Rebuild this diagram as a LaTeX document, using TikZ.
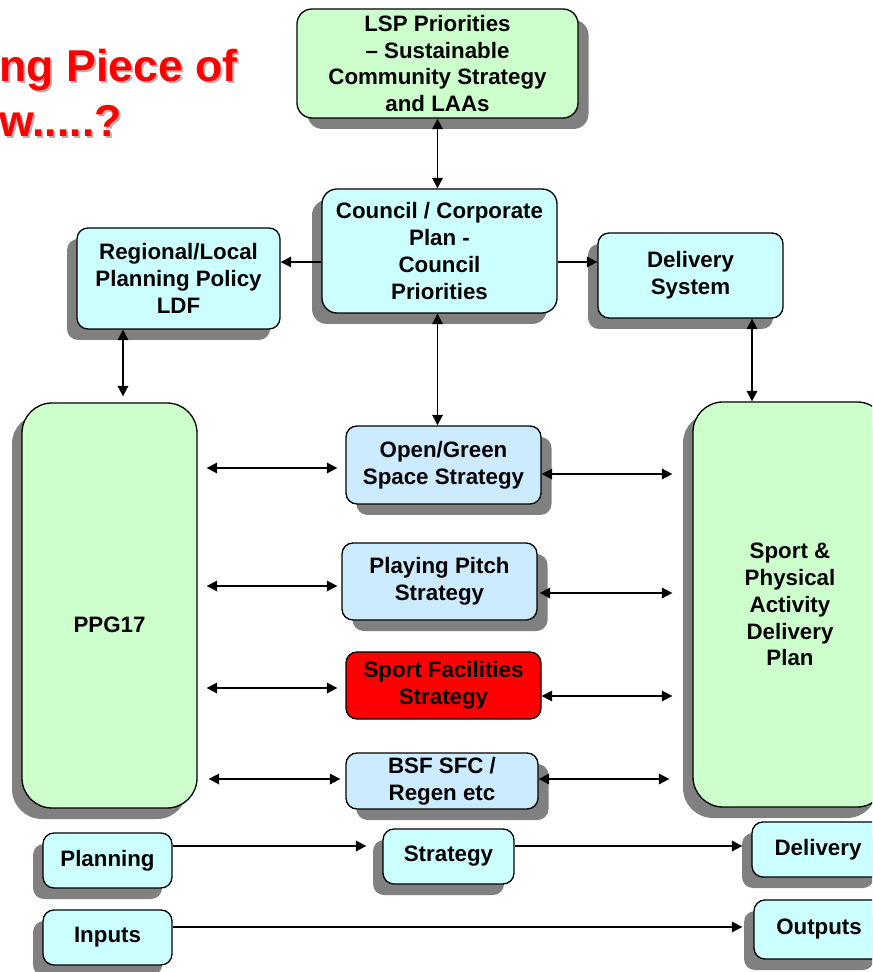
\documentclass[tikz,border=0pt]{standalone}
\usepackage{fontspec}
\setmainfont{Liberation Sans}
\usetikzlibrary{arrows.meta,shadows,calc}

\definecolor{palegreen}{HTML}{CCFFCC}
\definecolor{palecyan}{HTML}{CCFFFF}
\definecolor{paleblue}{HTML}{CCEBFF}
\definecolor{titlered}{HTML}{FF0000}
\definecolor{titleshade}{HTML}{B4B4B4}

\tikzset{
  box/.style={draw, line width=0.75pt, rounded corners=0.22cm, inner sep=0pt, align=center,
    font=\fontsize{12.7}{15.3}\selectfont\bfseries},
  sz/.style 2 args={minimum width=#1*0.02cm, minimum height=#2*0.02cm},
  shleft/.style={drop shadow={shadow xshift=-0.2cm, shadow yshift=-0.22cm, fill=gray, opacity=1}},
  shright/.style={drop shadow={shadow xshift=0.21cm, shadow yshift=-0.22cm, fill=gray, opacity=1}},
  link/.style={line width=1pt, >={Triangle[length=0.21cm, width=0.21cm]}},
  heading/.style={inner sep=0pt, anchor=base west, font=\fontsize{25.4}{30}\selectfont\bfseries},
}

\begin{document}
\begin{tikzpicture}[x=0.02cm, y=-0.02cm]
	\clip (0,0) rectangle (872,972);
	
	% Title (cut off on the left)
	\node[heading, text=titleshade] (titleashade) at (1,84) {ng Piece of};
	\node[heading, text=titlered] (titlea) at (-1,82) {ng Piece of};
	\node[heading, text=titleshade] (titlebshade) at (1,139) {w.....?};
	\node[heading, text=titlered] (titleb) at (-1,137) {w.....?};
	
	% Top row
	\node[box, sz={281}{109}, fill=palegreen, shright, rounded corners=0.3cm] (lsp) at (437.5,63.5)
		{LSP Priorities\\– Sustainable\\Community Strategy\\and LAAs};
	\node[box, sz={235}{124}, fill=palecyan, shleft, rounded corners=0.3cm] (council) at (439.5,251)
		{Council / Corporate\\Plan -\\Council\\Priorities};
	\node[box, sz={203}{101}, fill=palecyan, shleft] (regional) at (178.5,278.5)
		{Regional/Local\\Planning Policy\\LDF};
	\node[box, sz={185}{85}, fill=palecyan, shleft] (delsys) at (690.5,275.5)
		{Delivery\\System};
	
	% Side columns
	\node[box, sz={175}{405}, fill=palegreen, shleft, rounded corners=0.6cm] (ppg) at (109.5,605.5) {};
	\node[box, draw=none] (ppgtext) at (109.5,625) {PPG17};
	\node[box, sz={194}{405}, fill=palegreen, shleft, rounded corners=0.6cm] (spa) at (790,604.5)
		{Sport \&\\Physical\\Activity\\Delivery\\Plan};
	
	% Strategies
	\node[box, sz={195}{78}, fill=paleblue, shright] (ogs) at (443.5,465) {Open/Green\\Space Strategy};
	\node[box, sz={195}{77}, fill=paleblue, shright] (pps) at (439.5,581.5) {Playing Pitch\\Strategy};
	\node[box, sz={195}{67}, fill=titlered] (sfs) at (443.5,685.5) {Sport Facilities\\Strategy};
	\node[box, sz={192}{56}, fill=paleblue, shright] (bsf) at (442,781) {BSF SFC /\\Regen etc};
	
	% Bottom key
	\node[box, sz={129}{55}, fill=palecyan, shleft] (planning) at (107.5,860.5) {Planning};
	\node[box, sz={131}{55}, fill=palecyan, shleft] (strategy) at (448.5,856.5) {Strategy};
	\node[box, sz={132}{55}, fill=palecyan, shleft] (delivery) at (818,849.5) {Delivery};
	\node[box, sz={129}{55}, fill=palecyan, shleft] (inputs) at (107.5,937.5) {Inputs};
	\node[box, sz={130}{59}, fill=palecyan, shleft] (outputs) at (819,929.5) {Outputs};
	
	% Links at the top
	\draw[link, <->] (lsp.south) -- (lsp.south |- council.north);
	\draw[link, ->] ($(council.west)+(0,11)$) -- ($(regional.east |- council.west)+(0,11)$);
	\draw[link, ->] ($(council.east)+(0,11)$) -- ($(delsys.west |- council.east)+(0,11)$);
	\draw[link, <->] ($(council.south)+(-2,0)$) -- ($(council.south |- ogs.north)+(-2,0)$);
	\draw[link, <->] ($(regional.south)+(-55.5,0)$) -- ($(regional.south |- ppg.north)+(-55.5,-6)$);
	\draw[link, <->] ($(delsys.south)+(61.5,0)$) -- ($(delsys.south |- spa.north)+(61.5,0)$);
	
	% Links to PPG17
	\draw[link, <->] ($(ppg.east |- ogs.west)+(9,3)$) -- ($(ogs.west)+(-8,3)$);
	\draw[link, <->] ($(ppg.east |- pps.west)+(9,4.5)$) -- ($(pps.west)+(-4,4.5)$);
	\draw[link, <->] ($(ppg.east |- sfs.west)+(9,2.5)$) -- ($(sfs.west)+(-8,2.5)$);
	\draw[link, <->] ($(ppg.east |- bsf.west)+(11,-2)$) -- ($(bsf.west)+(-5,-2)$);
	
	% Links to the delivery plan
	\draw[link, <->] ($(ogs.east)+(0,9)$) -- ($(spa.west |- ogs.east)+(-20,9)$);
	\draw[link, <->] ($(pps.east)+(2,11.5)$) -- ($(spa.west |- pps.east)+(-20,11.5)$);
	\draw[link, <->] ($(sfs.east)+(0,10.5)$) -- ($(spa.west |- sfs.east)+(-20,10.5)$);
	\draw[link, <->] ($(bsf.east)+(0,-2)$) -- ($(spa.west |- bsf.east)+(-23,-2)$);
	
	% Key arrows
	\draw[link, ->] ($(planning.east)+(0,-14.5)$) -- ($(strategy.west |- planning.east)+(-16,-14.5)$);
	\draw[link, ->] ($(strategy.east)+(0,-10.5)$) -- ($(delivery.west |- strategy.east)+(-9,-10.5)$);
	\draw[link, ->] ($(inputs.east)+(0,-10.5)$) -- ($(outputs.west |- inputs.east)+(-11,-10.5)$);
\end{tikzpicture}
\end{document}
